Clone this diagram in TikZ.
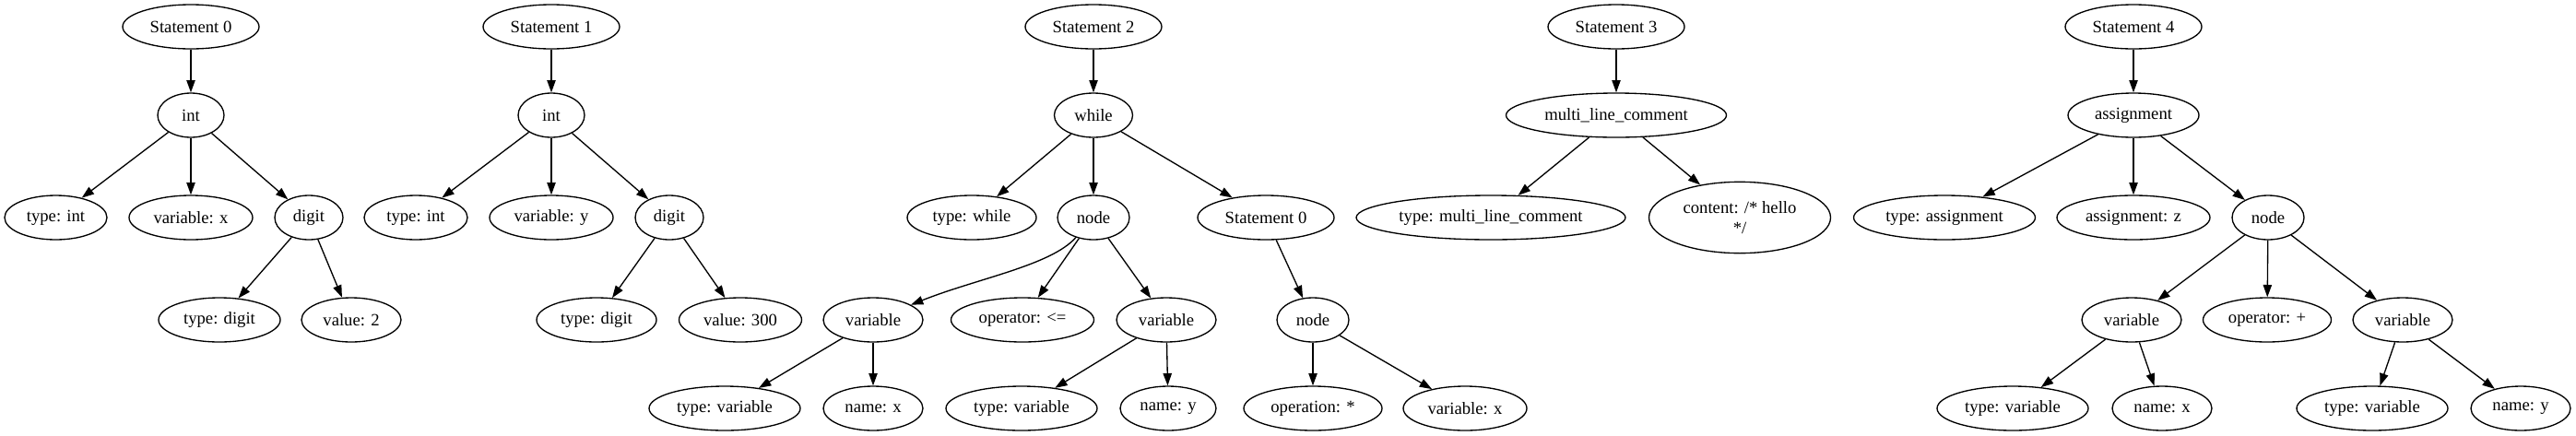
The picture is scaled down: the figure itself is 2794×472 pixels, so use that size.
\documentclass[tikz,border=0pt]{standalone}
\usepackage{fontspec}
\setmainfont{Liberation Serif}
\usetikzlibrary{shapes.geometric,arrows.meta}
\begin{document}
\begin{tikzpicture}[x=0.75pt,y=-0.75pt,
  nd/.style={draw,ellipse,inner sep=0pt,minimum height=36pt,line width=1pt,font=\fontsize{14}{16.8}\selectfont,align=center},
  wd/.style={minimum width={0.75pt*#1}},
  edge/.style={-{Triangle[length=10pt,width=7pt]},line width=1pt}]
\useasboundingbox (0,0) rectangle (2794,472);
% ranks
\def\ra{29}\def\rb{125}\def\rc{236}\def\rd{347}\def\re{443}
% tree 0
\node[nd,wd=148] (s0) at (207,\ra) {Statement 0};
\node[nd,wd=72]  (int0) at (207,\rb) {int};
\node[nd,wd=111] (tint0) at (60.5,\rc) {type: int};
\node[nd,wd=134] (varx0) at (207,\rc) {variable: x};
\node[nd,wd=74]  (dig0) at (335,\rc) {digit};
\node[nd,wd=132] (tdig0) at (238,\rd) {type: digit};
\node[nd,wd=108] (val2) at (381,\rd) {value: 2};
% tree 1
\node[nd,wd=148] (s1) at (598,\ra) {Statement 1};
\node[nd,wd=72]  (int1) at (598,\rb) {int};
\node[nd,wd=112] (tint1) at (451,\rc) {type: int};
\node[nd,wd=134] (vary1) at (598,\rc) {variable: y};
\node[nd,wd=74]  (dig1) at (726,\rc) {digit};
\node[nd,wd=130] (tdig1) at (647,\rd) {type: digit};
\node[nd,wd=133] (val300) at (803,\rd) {value: 300};
% tree 2
\node[nd,wd=148] (s2) at (1186,\ra) {Statement 2};
\node[nd,wd=85]  (wh) at (1186,\rb) {while};
\node[nd,wd=140] (tw) at (1054,\rc) {type: while};
\node[nd,wd=78]  (nd2) at (1186,\rc) {node};
\node[nd,wd=148] (s0b) at (1373,\rc) {Statement 0};
\node[nd,wd=108] (varL) at (947,\rd) {variable};
\node[nd,wd=155] (opLE) at (1109,\rd) {operator: <=};
\node[nd,wd=108] (varR) at (1265,\rd) {variable};
\node[nd,wd=78]  (nd2b) at (1424,\rd) {node};
\node[nd,wd=164] (tvarL) at (786,\re) {type: variable};
\node[nd,wd=108] (nameX) at (947,\re) {name: x};
\node[nd,wd=164] (tvarR) at (1108,\re) {type: variable};
\node[nd,wd=104] (nameY) at (1267,\re) {name: y};
\node[nd,wd=150] (opmul) at (1424,\re) {operation: *};
\node[nd,wd=134] (varx2) at (1589,\re) {variable: x};
% tree 3
\node[nd,wd=148] (s3) at (1753,\ra) {Statement 3};
\node[nd,wd=239] (mlc) at (1753,\rb) {multi\_line\_comment};
\node[nd,wd=292] (tmlc) at (1617,\rc) {type: multi\_line\_comment};
\node[nd,wd=197,minimum height=58pt] (cont) at (1887,\rc) {content: /* hello\\*/};
% tree 4
\node[nd,wd=148] (s4) at (2314,\ra) {Statement 4};
\node[nd,wd=142] (asg) at (2314,\rb) {assignment};
\node[nd,wd=197] (tasg) at (2109,\rc) {type: assignment};
\node[nd,wd=166] (asgz) at (2314,\rc) {assignment: z};
\node[nd,wd=78]  (nd4) at (2460,\rc) {node};
\node[nd,wd=108] (var4L) at (2312,\rd) {variable};
\node[nd,wd=139] (opp) at (2459,\rd) {operator: +};
\node[nd,wd=108] (var4R) at (2606,\rd) {variable};
\node[nd,wd=164] (tvar4L) at (2183,\re) {type: variable};
\node[nd,wd=108] (name4x) at (2345,\re) {name: x};
\node[nd,wd=164] (tvar4R) at (2573,\re) {type: variable};
\node[nd,wd=108] (name4y) at (2734,\re) {name: y};
% edges
\draw[edge] (s0) -- (int0);
\draw[edge] (int0) -- (tint0);
\draw[edge] (int0) -- (varx0);
\draw[edge] (int0) -- (dig0);
\draw[edge] (dig0) -- (tdig0);
\draw[edge] (dig0) -- (val2);
\draw[edge] (s1) -- (int1);
\draw[edge] (int1) -- (tint1);
\draw[edge] (int1) -- (vary1);
\draw[edge] (int1) -- (dig1);
\draw[edge] (dig1) -- (tdig1);
\draw[edge] (dig1) -- (val300);
\draw[edge] (s2) -- (wh);
\draw[edge] (wh) -- (tw);
\draw[edge] (wh) -- (nd2);
\draw[edge] (wh) -- (s0b);
\draw[edge] (nd2) .. controls (1140,288) and (1060,302) .. (varL);
\draw[edge] (nd2) -- (opLE);
\draw[edge] (nd2) -- (varR);
\draw[edge] (varL) -- (tvarL);
\draw[edge] (varL) -- (nameX);
\draw[edge] (varR) -- (tvarR);
\draw[edge] (varR) -- (nameY);
\draw[edge] (s0b) -- (nd2b);
\draw[edge] (nd2b) -- (opmul);
\draw[edge] (nd2b) -- (varx2);
\draw[edge] (s3) -- (mlc);
\draw[edge] (mlc) -- (tmlc);
\draw[edge] (mlc) -- (cont);
\draw[edge] (s4) -- (asg);
\draw[edge] (asg) -- (tasg);
\draw[edge] (asg) -- (asgz);
\draw[edge] (asg) -- (nd4);
\draw[edge] (nd4) -- (var4L);
\draw[edge] (nd4) -- (opp);
\draw[edge] (nd4) -- (var4R);
\draw[edge] (var4L) -- (tvar4L);
\draw[edge] (var4L) -- (name4x);
\draw[edge] (var4R) -- (tvar4R);
\draw[edge] (var4R) -- (name4y);
\end{tikzpicture}
\end{document}
